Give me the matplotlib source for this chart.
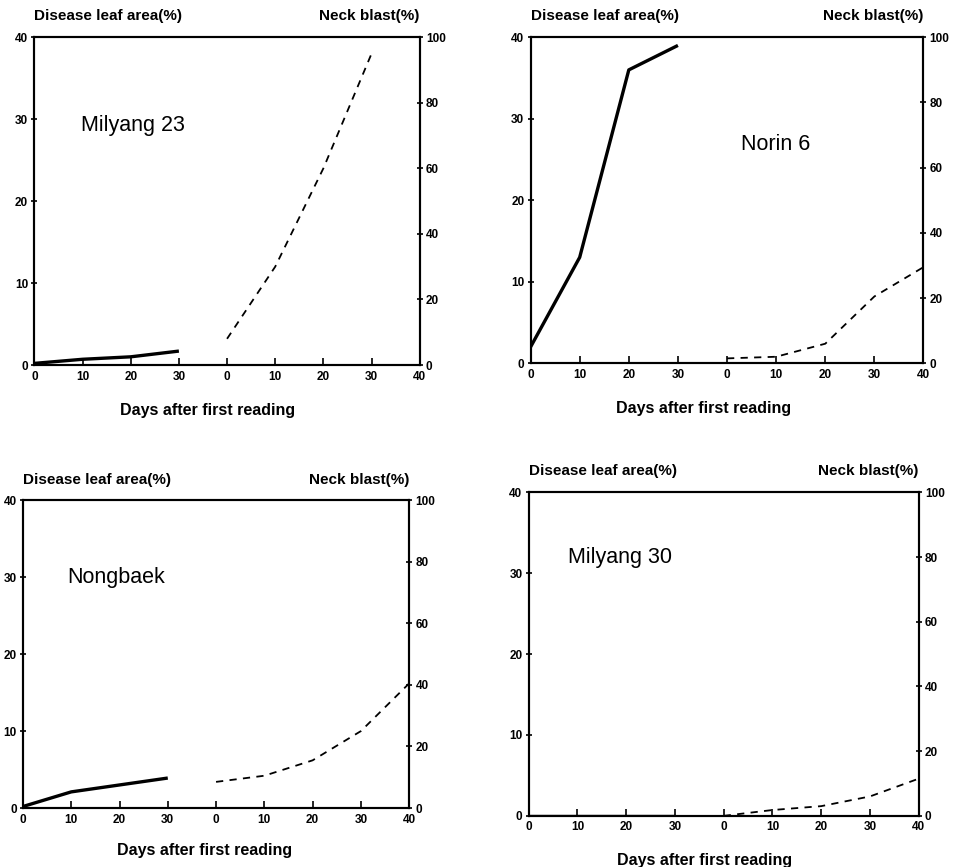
import matplotlib.pyplot as plt

plt.rcParams['font.family'] = ['Liberation Sans', 'DejaVu Sans']

# days after first reading
days_leaf = [0, 10, 20, 30]
days_neck = [0, 10, 20, 30, 40]

# disease leaf area (%) and neck blast (%) per cultivar
milyang23_leaf = [0.2, 0.7, 1.0, 1.7]
milyang23_neck = [8, 30, 60, 95]
norin6_leaf = [2.0, 13.0, 36.0, 39.0]
norin6_neck = [1.5, 2, 6, 20.5, 29.5]
nongbaek_leaf = [0.2, 2.1, 3.0, 3.9]
nongbaek_neck = [8.5, 10.5, 15.5, 25, 40.5]
milyang30_leaf = [0, 0, 0, 0]
milyang30_neck = [0, 1.8, 3, 6, 11.5]

xtick_labels = ['0', '10', '20', '30', '0', '10', '20', '30', '40']

panels = [
    ("Milyang 23", milyang23_leaf, milyang23_neck, [0.036, 0.579, 0.403, 0.378], (0.12, 0.73), 0.45),
    ("Norin 6", norin6_leaf, norin6_neck, [0.555, 0.581, 0.411, 0.376], (0.535, 0.67), 0.44),
    ("Nongbaek", nongbaek_leaf, nongbaek_neck, [0.024, 0.068, 0.404, 0.355], (0.115, 0.75), 0.47),
    ("Milyang 30", milyang30_leaf, milyang30_neck, [0.553, 0.059, 0.408, 0.373], (0.10, 0.80), 0.45),
]

fig = plt.figure(figsize=(9.56, 8.67), dpi=100)

for name, leaf, neck, rect, txt_pos, xlab_x in panels:
    ax = fig.add_axes(rect)
    ax2 = ax.twinx()

    ax.plot([d / 10 for d in days_leaf], leaf, color='black', lw=2.4, solid_capstyle='butt')
    ax2.plot([4 + d / 10 for d in days_neck[:len(neck)]], neck, color='black', lw=1.3,
             linestyle=(0, (4, 3.5)))

    ax.set_xlim(0, 8)
    ax.set_ylim(0, 40)
    ax2.set_ylim(0, 100)
    ax.set_xticks(range(9))
    ax.set_xticklabels(xtick_labels)
    ax.set_yticks([0, 10, 20, 30, 40])
    ax2.set_yticks([0, 20, 40, 60, 80, 100])

    for a in (ax, ax2):
        for sp in a.spines.values():
            sp.set_linewidth(1.5)
    ax.tick_params(axis='x', direction='in', length=5, width=1.2, labelsize=8.5, pad=4)
    ax.tick_params(axis='y', direction='inout', length=5, width=1.2, labelsize=8.5, pad=2)
    ax2.tick_params(axis='y', direction='inout', length=5, width=1.2, labelsize=8.5, pad=2)
    for lab in ax.get_xticklabels() + ax.get_yticklabels() + ax2.get_yticklabels():
        lab.set_fontweight('bold')

    ax.text(txt_pos[0], txt_pos[1], name, transform=ax.transAxes, fontsize=15.5,
            va='center', ha='left')
    ax.text(0.0, 1.065, "Disease leaf area(%)", transform=ax.transAxes, fontsize=11,
            fontweight='bold', ha='left', va='center')
    ax.text(1.0, 1.065, "Neck blast(%)", transform=ax.transAxes, fontsize=11,
            fontweight='bold', ha='right', va='center')
    ax.set_xlabel("Days after first reading", fontsize=11.5, fontweight='bold')
    ax.xaxis.set_label_coords(xlab_x, -0.115)

fig.savefig('out.png', dpi=100)
